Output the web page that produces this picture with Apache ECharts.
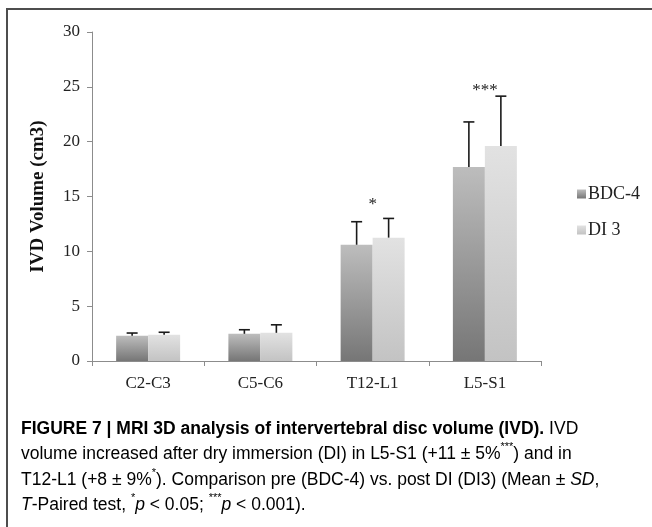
<!DOCTYPE html>
<html>
<head>
<meta charset="utf-8">
<script src="https://cdn.jsdelivr.net/npm/echarts@6/dist/echarts.min.js"></script>
<style>
  html, body { margin: 0; padding: 0; background: #fff; }
  #chart { width: 652px; height: 527px; }
</style>
</head>
<body>
<div id="chart"></div>
<script>
// ---- data ----
const categories = ['C2-C3', 'C5-C6', 'T12-L1', 'L5-S1'];
const seriesNames = ['BDC-4', 'DI 3'];
const bdcMean = [2.3, 2.48, 10.6, 17.7];
const bdcSD   = [0.25, 0.37, 2.1, 4.1];
const di3Mean = [2.4, 2.57, 11.25, 19.6];
const di3SD   = [0.22, 0.73, 1.75, 4.55];
const sigLabels = ['', '', '*', '***'];
const sigLevel  = [null, null, 14.25, 24.7];
const yTicks = [0, 5, 10, 15, 20, 25, 30];

const serif = '"Liberation Serif", "DejaVu Serif", serif';
const sans = '"Liberation Sans", Arial, sans-serif';
const catGap = 0.43;

function grad(top, bottom) {
  return new echarts.graphic.LinearGradient(0, 0, 0, 1, [
    { offset: 0, color: top }, { offset: 1, color: bottom }
  ]);
}
const bdcColor = grad('#bdbdbd', '#767676');
const di3Color = grad('#e2e2e2', '#c3c3c3');

function errorSeries(means, sds, side) {
  return {
    type: 'custom',
    silent: true,
    z: 5,
    data: means.map((m, i) => [i, m, m + sds[i]]),
    renderItem: function (params, api) {
      const band = api.size([1, 0])[0];
      const barW = band * (1 - catGap) / 2;
      const base = api.coord([api.value(0), api.value(1)]);
      const top = api.coord([api.value(0), api.value(2)]);
      const x = base[0] + side * barW / 2;
      const cap = 5.5;
      return {
        type: 'group',
        children: [
          { type: 'line', shape: { x1: x, y1: base[1], x2: x, y2: top[1] },
            style: { stroke: '#1a1a1a', lineWidth: 1.6 } },
          { type: 'line', shape: { x1: x - cap, y1: top[1], x2: x + cap, y2: top[1] },
            style: { stroke: '#1a1a1a', lineWidth: 1.6 } }
        ]
      };
    }
  };
}

const chart = echarts.init(document.getElementById('chart'), null, { renderer: 'canvas' });

const caption =
  '{b|FIGURE 7 | MRI 3D analysis of intervertebral disc volume (IVD).}{n| IVD}\n' +
  '{n|volume increased after dry immersion (DI) in L5-S1 (+11 ± 5%}{s|***}{n|) and in}\n' +
  '{n|T12-L1 (+8 ± 9%}{s|*}{n|). Comparison pre (BDC-4) vs. post DI (DI3) (Mean ± }{i|SD}{n|,}\n' +
  '{i|T}{n|-Paired test, }{s|*}{i|p}{n| < 0.05; }{s|***}{i|p}{n| < 0.001).}';

const option = {
  backgroundColor: '#ffffff',
  animation: false,
  grid: { left: 92, top: 32, width: 449, height: 329, containLabel: false },
  legend: {
    orient: 'vertical',
    left: 572,
    top: 180,
    itemWidth: 9,
    itemHeight: 9,
    itemGap: 18,
    icon: 'rect',
    textStyle: { fontFamily: serif, fontSize: 18, color: '#222', padding: [0, 0, 0, -3] },
    data: seriesNames
  },
  xAxis: {
    type: 'category',
    data: categories,
    axisLine: { lineStyle: { color: '#8c8c8c', width: 1 } },
    axisTick: { show: true, length: 5, lineStyle: { color: '#8c8c8c' } },
    axisLabel: { fontFamily: serif, fontSize: 17, color: '#222', margin: 14 }
  },
  yAxis: {
    type: 'value',
    min: yTicks[0],
    max: yTicks[yTicks.length - 1],
    interval: yTicks[1] - yTicks[0],
    name: 'IVD Volume (cm3)',
    nameLocation: 'middle',
    nameGap: 44,
    nameTextStyle: { fontFamily: serif, fontSize: 19, fontWeight: 'bold', color: '#111' },
    axisLine: { show: true, lineStyle: { color: '#8c8c8c', width: 1 } },
    axisTick: { show: true, length: 5, lineStyle: { color: '#8c8c8c' } },
    axisLabel: { fontFamily: serif, fontSize: 17, color: '#222', margin: 12 },
    splitLine: { show: false }
  },
  series: [
    { name: seriesNames[0], type: 'bar', data: bdcMean, barGap: '0%', barCategoryGap: (catGap * 100) + '%',
      itemStyle: { color: bdcColor } },
    { name: seriesNames[1], type: 'bar', data: di3Mean, barGap: '0%', barCategoryGap: (catGap * 100) + '%',
      itemStyle: { color: di3Color } },
    errorSeries(bdcMean, bdcSD, -1),
    errorSeries(di3Mean, di3SD, 1),
    {
      type: 'custom',
      silent: true,
      z: 6,
      data: sigLevel.map((v, i) => [i, v]).filter(d => d[1] !== null),
      renderItem: function (params, api) {
        const p = api.coord([api.value(0), api.value(1)]);
        return {
          type: 'text',
          style: { text: sigLabels[api.value(0)], x: p[0], y: p[1], align: 'center', verticalAlign: 'middle',
                   font: '17px ' + serif, fill: '#222' }
        };
      }
    }
  ],
  graphic: [
    { type: 'rect', silent: true, shape: { x: 7, y: 9, width: 700, height: 600 },
      style: { fill: 'none', stroke: '#4d4d4d', lineWidth: 2 } },
    {
      type: 'text', left: 21, top: 420, silent: true,
      style: {
        text: caption,
        rich: {
          b: { fontFamily: sans, fontSize: 17.5, fontWeight: 'bold', color: '#222', lineHeight: 25.5 },
          n: { fontFamily: sans, fontSize: 17.5, color: '#333', lineHeight: 25.5 },
          i: { fontFamily: sans, fontSize: 17.5, fontStyle: 'italic', color: '#333', lineHeight: 25.5 },
          s: { fontFamily: sans, fontSize: 11, color: '#333', lineHeight: 20, verticalAlign: 'top' }
        }
      }
    }
  ]
};
chart.setOption(option);
</script>
</body>
</html>
